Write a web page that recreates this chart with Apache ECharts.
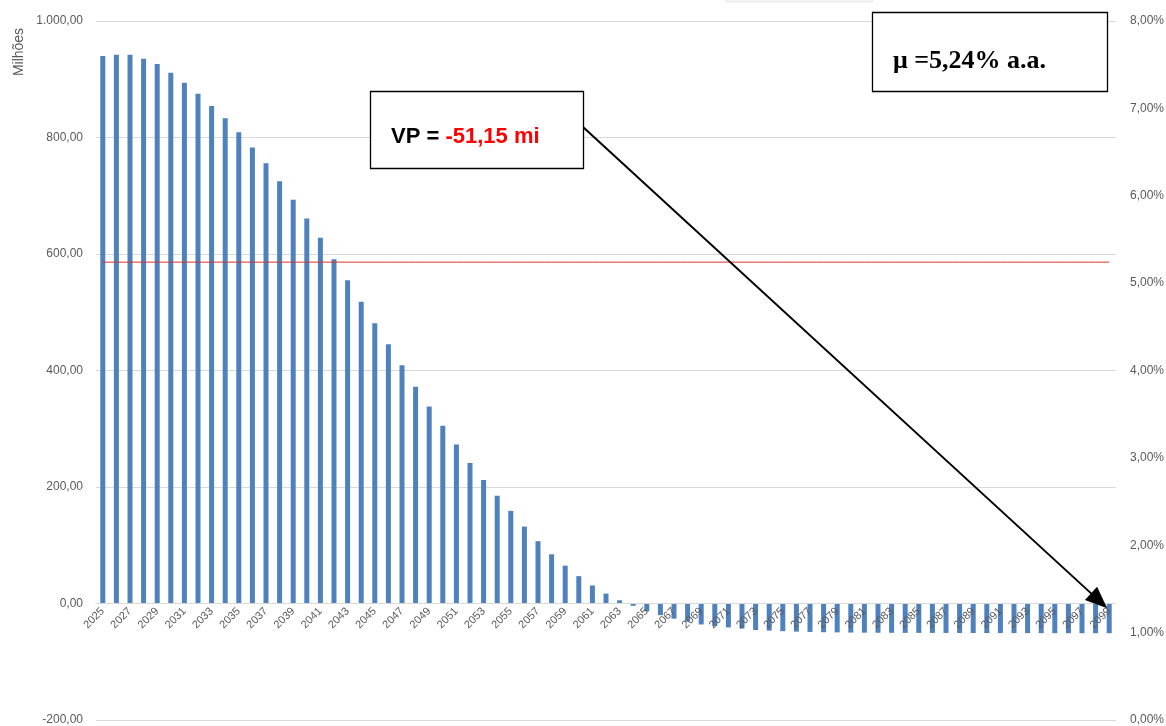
<!DOCTYPE html>
<html>
<head>
<meta charset="utf-8">
<script src="https://cdn.jsdelivr.net/npm/echarts@6/dist/echarts.min.js"></script>
<style>html,body{margin:0;padding:0;background:#fff}#c{width:1166px;height:726px}</style>
</head>
<body>
<div id="c"></div>
<script>
const years = [];
for (let y = 2025; y <= 2099; y++) years.push(String(y));
const fluxo = [
  940, 942, 942, 935, 926, 911, 894, 875, 854, 833,
  809, 783, 756, 725, 693, 661, 628, 591, 555, 518,
  481, 445, 409, 372, 338, 305, 273, 241, 212, 185,
  159, 132, 107, 84.5, 65, 47, 31, 17, 5.5, -4,
  -13.5, -20, -26, -31, -36, -38.5, -41, -43, -45.5, -46.5,
  -47.5, -48.3, -48.8, -49.3, -49.6, -49.9, -50.1, -50.2, -50.3, -50.4,
  -50.4, -50.5, -50.5, -50.6, -50.6, -50.7, -50.7, -50.8, -50.8, -50.9,
  -50.9, -51, -51, -51, -51
];
const taxa = 5.24;
const taxaLine = years.map(() => taxa);
const leftTicks = { min: -200, max: 1000, interval: 200 };
const rightTicks = { min: 0, max: 8, interval: 1 };
const vpText = "-51,15 mi";
const muText = "μ =5,24% a.a.";

function fmtBR(v) {
  const neg = v < 0;
  const s = Math.abs(v).toFixed(2).split('.');
  const int = s[0].replace(/\B(?=(\d{3})+(?!\d))/g, '.');
  return (neg ? '-' : '') + int + ',' + s[1];
}

const chart = echarts.init(document.getElementById('c'));
const FONT = 'Liberation Sans';
const GRID = { left: 96, right: 50, top: 21, bottom: 6, containLabel: false, outerBoundsMode: 'none' };
chart.setOption({
  animation: false,
  textStyle: { fontFamily: FONT },
  grid: GRID,
  xAxis: {
    type: 'category',
    data: years,
    z: 5,
    axisTick: { show: false },
    axisLine: { onZero: false, lineStyle: { color: '#d9d9d9', width: 1 } },
    axisLabel: { rotate: 45, interval: 1, fontSize: 11, color: '#595959', margin: 6, fontFamily: FONT }
  },
  yAxis: [
    {
      type: 'value', min: leftTicks.min, max: leftTicks.max, interval: leftTicks.interval,
      axisLine: { show: false }, axisTick: { show: false },
      splitLine: { lineStyle: { color: '#d9d9d9', width: 1 } },
      axisLabel: { fontSize: 12, color: '#595959', margin: 13, formatter: fmtBR, fontFamily: FONT }
    },
    {
      type: 'value', min: rightTicks.min, max: rightTicks.max, interval: rightTicks.interval,
      position: 'right',
      axisLine: { show: false }, axisTick: { show: false }, splitLine: { show: false },
      axisLabel: { fontSize: 12, color: '#595959', margin: 14, fontFamily: FONT,
        formatter: v => v.toFixed(2).replace('.', ',') + '%' }
    }
  ],
  series: [
    {
      type: 'bar', data: fluxo, barWidth: 5,
      itemStyle: { color: '#4f81bd' }, z: 2
    },
    {
      type: 'line', data: taxaLine, yAxisIndex: 1, symbol: 'none',
      lineStyle: { color: '#d9342b', width: 1 }, z: 3
    }
  ]
});

// move the category axis (line + labels) up to the zero level of the left axis
const zeroY = chart.convertToPixel({ yAxisIndex: 0 }, 0);
const bottomY = chart.convertToPixel({ yAxisIndex: 0 }, leftTicks.min);
chart.setOption({ xAxis: { offset: -(bottomY - zeroY) } });

function drawAnnotations() {
  const tip = chart.convertToPixel({ xAxisIndex: 0, yAxisIndex: 0 }, [years[years.length - 1], -8]);
  const tx = tip[0] - 2, ty = tip[1];
  const sx = 583, sy = 127;
  const dx = tx - sx, dy = ty - sy, L = Math.hypot(dx, dy);
  const ux = dx / L, uy = dy / L;
  const hl = 22, hw = 9;
  const bx = tx - ux * hl, by = ty - uy * hl;
  chart.setOption({
    graphic: [
      { type: 'rect', shape: { x: 725, y: 0, width: 148, height: 3 }, style: { fill: '#f2f2f2' }, z: 1 },
      { type: 'line', shape: { x1: sx, y1: sy, x2: bx + ux * 2, y2: by + uy * 2 }, style: { stroke: '#000', lineWidth: 2 }, z: 10 },
      { type: 'polygon', shape: { points: [[tx, ty], [bx - uy * hw, by + ux * hw], [bx + uy * hw, by - ux * hw]] }, style: { fill: '#000' }, z: 10 },
      { type: 'rect', shape: { x: 370.5, y: 91.5, width: 213, height: 77 }, style: { fill: '#fff', stroke: '#000', lineWidth: 1.3 }, z: 11 },
      { type: 'text', x: 391, y: 137, z: 12,
        style: { text: '{a|VP = }{b|' + vpText + '}', verticalAlign: 'middle',
          rich: {
            a: { fontSize: 22, fontWeight: 'bold', fill: '#000', fontFamily: FONT },
            b: { fontSize: 22, fontWeight: 'bold', fill: '#ff0000', fontFamily: FONT }
          } } },
      { type: 'rect', shape: { x: 872.5, y: 12.5, width: 235, height: 79 }, style: { fill: '#fff', stroke: '#000', lineWidth: 1.3 }, z: 11 },
      { type: 'text', x: 893, y: 61, z: 12,
        style: { text: muText, verticalAlign: 'middle', fontSize: 26, fontWeight: 'bold', fill: '#000', fontFamily: 'Liberation Serif' } },
      { type: 'text', x: 19, y: 52, rotation: Math.PI / 2, z: 12,
        style: { text: 'Milhões', align: 'center', verticalAlign: 'middle', fontSize: 14, fill: '#595959', fontFamily: FONT } }
    ]
  });
}
drawAnnotations();
</script>
</body>
</html>
